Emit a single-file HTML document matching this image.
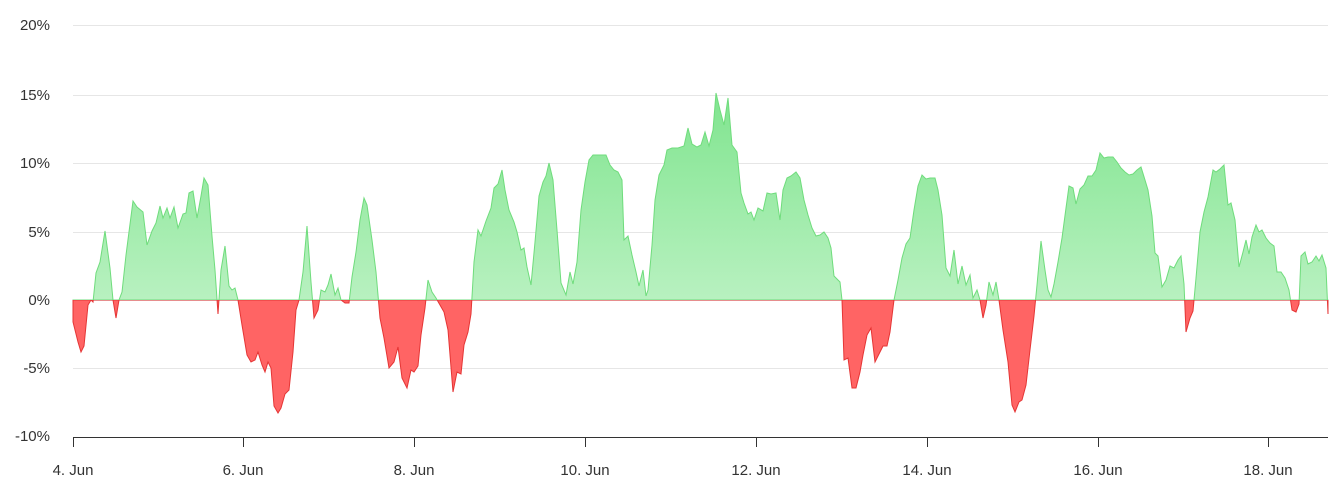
<!DOCTYPE html>
<html><head><meta charset="utf-8"><style>
body{margin:0;background:#fff}
text{font-family:"Liberation Sans",sans-serif;font-size:15px;fill:#333}
</style></head><body>
<svg width="1339" height="498" xmlns="http://www.w3.org/2000/svg">
<defs>
<linearGradient id="g" x1="0" y1="90" x2="0" y2="300" gradientUnits="userSpaceOnUse">
<stop offset="0" stop-color="#7fe48e"/><stop offset="1" stop-color="#b8f1c0"/></linearGradient>
<clipPath id="up"><rect x="0" y="0" width="1339" height="300"/></clipPath>
<clipPath id="dn"><rect x="0" y="300" width="1339" height="200"/></clipPath>
</defs>
<g stroke="#e6e6e6" stroke-width="1">
<line x1="73" x2="1328" y1="25.5" y2="25.5"/><line x1="73" x2="1328" y1="95.5" y2="95.5"/>
<line x1="73" x2="1328" y1="163.5" y2="163.5"/><line x1="73" x2="1328" y1="232.5" y2="232.5"/>
<line x1="73" x2="1328" y1="300.5" y2="300.5"/><line x1="73" x2="1328" y1="368.5" y2="368.5"/>
</g>
<g id="s">
<path id="p" d="M73,300 L73,322 78,342 81,352 84,346 88,305 91,300 93,302 96,273 100,262 105,231 110,268 113,300 116,318 119,300 122,292 126,255 133,201 137,207 143,212 147,245 152,231 156,223 160,206 163,218 167,208 170,218 174,207 178,228 183,214 186,213 189,193 193,191 197,218 201,196 204,178 208,185 212,236 215,270 218,314 221,270 225,246 229,286 232,290 235,288 238,300 242,325 247,355 251,362 255,360 258,352 262,365 265,372 268,362 271,368 274,406 278,413 281,408 285,394 289,390 293,352 296,310 299,300 303,272 307,226 311,282 314,318 318,310 321,290 325,292 328,285 331,274 335,295 338,288 341,300 345,303 349,303 352,277 356,252 360,220 364,198 367,205 372,240 376,272 380,318 384,338 389,368 394,362 398,347 402,378 407,388 411,370 414,372 418,366 421,335 425,308 428,280 432,292 436,298 440,305 444,312 448,330 453,392 457,372 461,374 464,345 468,332 471,314 474,262 478,230 481,236 486,221 491,208 494,188 498,184 502,170 505,190 509,210 514,222 517,232 521,250 524,248 527,267 531,285 535,242 539,196 543,182 546,176 549,163 553,180 557,230 561,283 566,295 570,272 573,284 577,262 581,210 585,182 589,160 593,155 597,155 603,155 606,155 610,165 614,170 618,172 622,180 624,240 628,236 632,255 636,272 639,286 643,270 646,296 648,290 652,245 655,200 659,175 664,165 667,150 672,148 678,148 684,146 688,128 692,144 697,147 701,145 705,132 709,146 713,130 716,93 720,110 724,125 728,98 732,145 737,152 741,193 744,203 748,214 751,212 754,220 758,208 763,211 767,193 771,194 776,193 780,220 783,190 787,178 791,176 796,172 800,178 804,200 808,215 812,228 816,236 820,235 824,232 828,238 831,248 834,276 838,280 840,282 842,300 844,360 848,358 852,388 856,388 860,372 863,355 867,335 871,328 875,362 879,354 883,346 887,346 890,332 894,300 898,280 902,258 906,244 910,238 914,210 918,186 922,175 926,179 930,178 935,178 938,190 942,215 946,268 950,276 954,250 958,284 962,266 966,285 970,275 973,298 977,290 980,300 983,318 986,305 989,282 993,295 996,282 999,300 1003,330 1008,362 1012,405 1015,412 1019,402 1022,400 1026,385 1030,350 1034,316 1037,285 1041,241 1045,270 1048,290 1051,297 1054,284 1058,262 1062,238 1066,208 1069,186 1073,188 1076,204 1080,189 1084,185 1088,176 1092,176 1096,170 1100,153 1104,158 1108,157 1113,157 1117,162 1121,168 1125,172 1129,175 1133,174 1137,170 1141,167 1145,180 1148,190 1152,216 1155,253 1158,256 1162,287 1166,280 1170,266 1174,268 1178,260 1181,256 1184,284 1186,332 1190,318 1193,311 1196,278 1200,232 1204,212 1208,197 1213,170 1216,172 1220,169 1224,165 1228,205 1231,203 1235,220 1239,267 1243,252 1246,240 1249,254 1252,237 1256,225 1259,232 1262,230 1266,238 1270,243 1274,246 1277,272 1281,272 1285,278 1289,290 1292,310 1296,312 1299,304 1301,256 1305,252 1308,264 1312,262 1316,256 1319,261 1322,255 1326,268 1328,314 L1328,300 Z"/>
</g>
<use href="#p" clip-path="url(#up)" fill="url(#g)" stroke="#6fdc7c" stroke-width="1"/>
<use href="#p" clip-path="url(#dn)" fill="#ff6464" stroke="#e53535" stroke-width="1"/>
<g stroke="#333" stroke-width="1">
<line x1="73" x2="1328" y1="437.5" y2="437.5"/>
<line x1="73.5" x2="73.5" y1="437" y2="447"/><line x1="243.5" x2="243.5" y1="437" y2="447"/>
<line x1="414.5" x2="414.5" y1="437" y2="447"/><line x1="585.5" x2="585.5" y1="437" y2="447"/>
<line x1="756.5" x2="756.5" y1="437" y2="447"/><line x1="927.5" x2="927.5" y1="437" y2="447"/>
<line x1="1098.5" x2="1098.5" y1="437" y2="447"/><line x1="1268.5" x2="1268.5" y1="437" y2="447"/>
</g>
<g text-anchor="end">
<text x="50" y="30">20%</text><text x="50" y="100">15%</text><text x="50" y="168">10%</text>
<text x="50" y="237">5%</text><text x="50" y="305">0%</text><text x="50" y="373">-5%</text><text x="50" y="441">-10%</text>
</g>
<g text-anchor="middle">
<text x="73" y="475">4. Jun</text><text x="243" y="475">6. Jun</text><text x="414" y="475">8. Jun</text>
<text x="585" y="475">10. Jun</text><text x="756" y="475">12. Jun</text><text x="927" y="475">14. Jun</text>
<text x="1098" y="475">16. Jun</text><text x="1268" y="475">18. Jun</text>
</g>
</svg>
</body></html>
